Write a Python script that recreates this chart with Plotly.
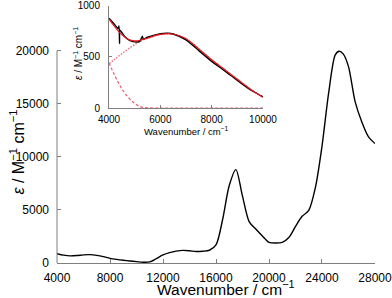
import plotly.graph_objects as go

# Main spectrum
wn_main = [4000, 4500, 5000, 5500, 6000, 6500, 7000, 7500, 8000, 8500, 9000, 9500,
           10000, 10500, 11000, 11500, 12000, 12500, 13000, 13500, 14000, 14500,
           15000, 15500, 16000, 16500, 17000, 17500, 18000, 18500, 19000, 19500,
           20000, 20500, 21000, 21500, 22000, 22500, 23000, 23500, 24000, 24500,
           25000, 25300, 25600, 26000, 26500, 27000, 27500, 28000]
eps_main = [880, 740, 670, 700, 770, 790, 720, 600, 440, 340, 260, 190,
            130, 70, 100, 420, 760, 980, 1120, 1190, 1150, 1080,
            1110, 1200, 1700, 4100, 7300, 8800, 6300, 3900, 3200, 2550,
            1950, 1880, 1950, 2400, 3450, 4400, 4950, 7100, 11000, 16000,
            19600, 19950, 19700, 18500, 15200, 13300, 11900, 11250]

# Inset: experimental
wn_exp = [4000, 4200, 4350, 4390, 4410, 4430, 4600, 4800, 5000, 5200, 5260, 5300,
          5340, 5500, 6000, 6300, 6500, 7000, 7500, 8000, 8500, 9000, 9500, 10000]
eps_exp = [876, 820, 775, 800, 630, 760, 700, 660, 645, 650, 680, 700,
           672, 690, 725, 730, 722, 665, 560, 455, 365, 268, 178, 110]

# Inset: fit and components
wn_fit = [4000, 4200, 4400, 4600, 4800, 5000, 5200, 5500, 6000, 6500, 7000, 7500,
          8000, 8500, 9000, 9500, 10000]
eps_fit = [870, 800, 740, 695, 665, 655, 660, 682, 718, 722, 676, 577,
           470, 375, 280, 185, 104]
eps_comp1 = [432, 470, 510, 548, 585, 618, 648, 680, 716, 720, 675, 576,
             470, 375, 280, 185, 104]
eps_comp2 = [440, 330, 230, 150, 90, 45, 13, 2, 0, 0, 0, 0,
             0, 0, 0, 0, 0]

main_xticks = [4000, 8000, 12000, 16000, 20000, 24000, 28000]
main_yticks = [0, 5000, 10000, 15000, 20000]
inset_xticks = [4000, 6000, 8000, 10000]
inset_yticks = [0, 500, 1000]

FONT = "Liberation Sans, Arial, sans-serif"
AX = "#7f7f7f"
RED = "#e8141e"
PINK = "#f25a6a"
YTITLE = "<i>ε</i> / M<sup>−1</sup> cm<sup>−1</sup>"
XTITLE = "Wavenumber / cm<sup>−1</sup>"

fig = go.Figure()
fig.add_trace(go.Scatter(x=wn_main, y=eps_main, mode="lines", line=dict(color="black", width=1.4, shape="spline", smoothing=0.8),
                         xaxis="x", yaxis="y", showlegend=False))
fig.add_trace(go.Scatter(x=wn_fit, y=eps_comp2, mode="lines", line=dict(color=PINK, width=1.2, dash="3px,2px", shape="spline"),
                         xaxis="x2", yaxis="y2", showlegend=False))
fig.add_trace(go.Scatter(x=wn_fit, y=eps_comp1, mode="lines", line=dict(color=PINK, width=1.3, dash="1.5px,1.5px", shape="spline"),
                         xaxis="x2", yaxis="y2", showlegend=False))
fig.add_trace(go.Scatter(x=wn_exp, y=eps_exp, mode="lines", line=dict(color="black", width=1.4, shape="spline", smoothing=0.6),
                         xaxis="x2", yaxis="y2", showlegend=False))
fig.add_trace(go.Scatter(x=wn_fit, y=eps_fit, mode="lines", line=dict(color=RED, width=1.2, shape="spline"),
                         xaxis="x2", yaxis="y2", showlegend=False))

H = 258.0
W = 318.0
ymax_main = 20000 * (263 - 5) / (263 - 50.7)

def py(pix):
    return (263 - pix) / H

def px(pix):
    return (pix - 57) / W

fig.update_layout(
    width=392, height=298,
    margin=dict(l=57, r=17, t=5, b=35),
    paper_bgcolor="white", plot_bgcolor="white",
    font=dict(family=FONT, color="black", size=12),
    xaxis=dict(range=[4000, 28000.5], tickvals=main_xticks, ticktext=[str(v) for v in main_xticks],
               ticks="inside", ticklen=4, tickcolor=AX, automargin=False, ticklabeloverflow="allow",
               showline=True, linecolor=AX, linewidth=1, showgrid=False, zeroline=False,
               tickfont=dict(size=12), ticklabelstandoff=4),
    yaxis=dict(range=[0, ymax_main], tickvals=main_yticks, ticktext=[str(v) for v in main_yticks],
               ticks="inside", ticklen=4, tickcolor=AX, automargin=False, ticklabeloverflow="allow",
               showline=False, showgrid=False, zeroline=False, tickfont=dict(size=12), ticklabelstandoff=7),
    xaxis2=dict(domain=[px(109), px(263)], anchor="y2", range=[4000, 10000], tickvals=inset_xticks,
                ticktext=[str(v) for v in inset_xticks], automargin=False, ticklabeloverflow="allow",
                ticks="inside", ticklen=3, tickcolor=AX, showline=True, linecolor=AX, linewidth=1,
                showgrid=False, zeroline=False, tickfont=dict(size=10), ticklabelstandoff=2),
    yaxis2=dict(domain=[py(108), py(5.5)], anchor="x2", range=[0, 1000], tickvals=inset_yticks,
                ticktext=[str(v) for v in inset_yticks], automargin=False, ticklabeloverflow="allow",
                ticks="inside", ticklen=3, tickcolor=AX, showline=True, linecolor=AX, linewidth=1,
                showgrid=False, zeroline=False, tickfont=dict(size=10), ticklabelstandoff=6),
    shapes=[dict(type="line", xref="paper", yref="y", x0=0, x1=0, y0=0, y1=20000,
                 line=dict(color=AX, width=1))],
    annotations=[
        dict(text=XTITLE, xref="paper", yref="paper", x=px(155), y=py(300), xanchor="left", yanchor="bottom",
             showarrow=False, font=dict(size=15.5)),
        dict(text=YTITLE, xref="paper", yref="paper", x=px(17.5), y=py(152), xanchor="center", yanchor="middle",
             textangle=-90, showarrow=False, font=dict(size=16)),
        dict(text=XTITLE, xref="paper", yref="paper", x=px(186.5), y=py(139), xanchor="center", yanchor="bottom",
             showarrow=False, font=dict(size=9.5)),
        dict(text=YTITLE, xref="paper", yref="paper", x=px(78), y=py(54), xanchor="center", yanchor="middle",
             textangle=-90, showarrow=False, font=dict(size=10)),
    ],
)

fig.write_html("out.html", config={"displayModeBar": False},
               post_script="document.body.style.margin='0';document.body.style.overflow='hidden';")
